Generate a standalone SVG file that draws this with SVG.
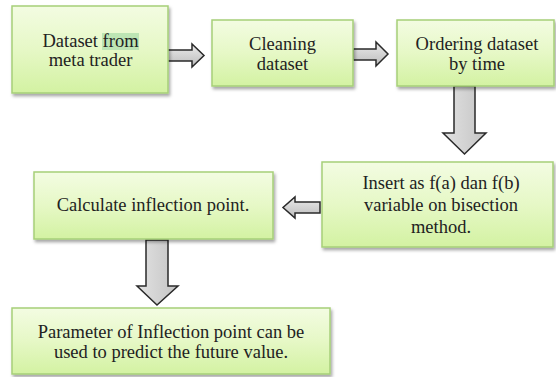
<svg xmlns="http://www.w3.org/2000/svg" width="556" height="377" viewBox="0 0 556 377">
<defs>
<linearGradient id="gBox" x1="0" y1="0" x2="0" y2="1">
<stop offset="0" stop-color="#f3fce2"/>
<stop offset="0.5" stop-color="#e6f8c6"/>
<stop offset="1" stop-color="#d3f2a2"/>
</linearGradient>
<linearGradient id="gArrV" x1="0" y1="0" x2="0" y2="1">
<stop offset="0" stop-color="#ebebeb"/>
<stop offset="1" stop-color="#bcbcbc"/>
</linearGradient>
<linearGradient id="gArrH" x1="0" y1="0" x2="1" y2="0">
<stop offset="0" stop-color="#e2e2e2"/>
<stop offset="1" stop-color="#c4c4c4"/>
</linearGradient>
<filter id="sh" x="-10%" y="-10%" width="130%" height="130%">
<feDropShadow dx="1.5" dy="2.5" stdDeviation="1.5" flood-color="#000" flood-opacity="0.35"/>
</filter>
</defs>
<style>
.box{fill:url(#gBox);stroke:#a6cf78;stroke-width:1.5;filter:url(#sh)}
.t{font-family:"Liberation Serif","Times New Roman",serif;font-size:18.5px;fill:#222;text-anchor:middle}
.arrH{fill:url(#gArrV);stroke:#2a2a2a;stroke-width:1.5;stroke-linejoin:miter}
.arrV{fill:url(#gArrH);stroke:#2a2a2a;stroke-width:1.5;stroke-linejoin:miter}
</style>
<rect width="556" height="377" fill="#fff"/>
<g id="connectors">
<path class="arrH" d="M167,50 H192 V44 L204,55.5 L192,67 V61 H167 Z"/>
<path class="arrH" d="M353,49 H376 V42 L388,54 L376,66 V60 H353 Z"/>
<path class="arrV" d="M454,86 H475 V133 H486 L464.5,154 L443,133 H454 Z"/>
<path class="arrH" d="M320,202 H295 V197 L283,207.5 L295,218 V213 H320 Z"/>
<path class="arrV" d="M146,240 H168 V286 H178 L157,305 L137,286 H146 Z"/>
</g>
<g id="node1">
<rect class="box" x="12" y="6" width="156" height="87"/>
<rect x="102" y="33" width="37" height="17" fill="#bde5b4"/>
<text class="t" x="90.5" y="47">Dataset from</text>
<text class="t" x="90.5" y="66">meta trader</text>
</g>
<g id="node2">
<rect class="box" x="212" y="20" width="141" height="66"/>
<text class="t" x="282.5" y="50">Cleaning</text>
<text class="t" x="282.5" y="70">dataset</text>
</g>
<g id="node3">
<rect class="box" x="397" y="20" width="157" height="66"/>
<text class="t" x="477" y="50">Ordering dataset</text>
<text class="t" x="477" y="70">by time</text>
</g>
<g id="node4">
<rect class="box" x="322" y="162" width="231" height="85"/>
<text class="t" x="441" y="189">Insert as f(a) dan f(b)</text>
<text class="t" x="441" y="211">variable on bisection</text>
<text class="t" x="441" y="233">method.</text>
</g>
<g id="node5">
<rect class="box" x="34" y="172" width="239" height="67"/>
<text class="t" x="153" y="211">Calculate inflection point.</text>
</g>
<g id="node6">
<rect class="box" x="12" y="308" width="318" height="66"/>
<text class="t" x="171" y="338">Parameter of Inflection point can be</text>
<text class="t" x="171" y="358">used to predict the future value.</text>
</g>
</svg>
